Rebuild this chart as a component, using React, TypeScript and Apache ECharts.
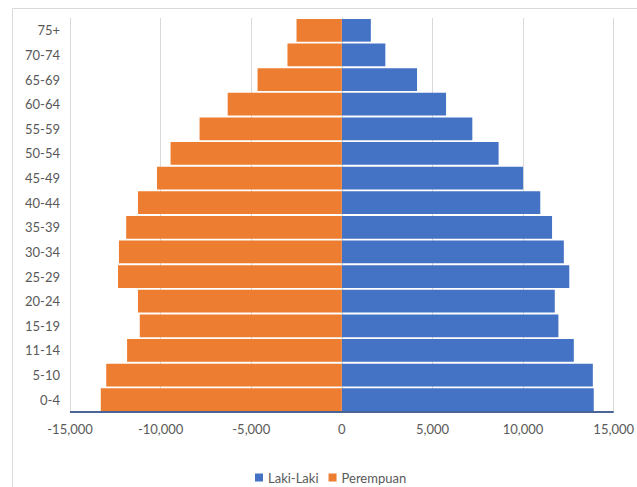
import React, { useEffect, useRef } from "react";
import * as echarts from "echarts";

const categories = ["0-4", "5-10", "11-14", "15-19", "20-24", "25-29", "30-34", "35-39", "40-44", "45-49", "50-54", "55-59", "60-64", "65-69", "70-74", "75+"];
const lakiLaki = [13900, 13850, 12800, 11950, 11750, 12550, 12250, 11600, 10950, 10000, 8650, 7200, 5750, 4150, 2400, 1600];
const perempuan = [-13300, -13000, -11850, -11150, -11250, -12350, -12300, -11900, -11250, -10200, -9450, -7850, -6300, -4650, -3000, -2500];
const xTicks = { min: -15000, max: 15000, interval: 5000 };

export default function App() {
  const ref = useRef<HTMLDivElement>(null);
  useEffect(() => {
    if (!ref.current) return;
    const chart = echarts.init(ref.current, null, { renderer: "svg" });
    const font = "Lato, 'Open Sans', sans-serif";
    chart.setOption({
      animation: false,
      backgroundColor: "#ffffff",
      graphic: [
        {
          type: "rect",
          shape: { x: 12.5, y: 8.5, width: 700, height: 600 },
          style: { fill: "none", stroke: "#d9d9d9", lineWidth: 1 },
          silent: true,
        },
      ],
      legend: {
        data: ["Laki-Laki", "Perempuan"],
        left: 250,
        top: 466,
        icon: "rect",
        itemWidth: 8,
        itemHeight: 8,
        itemGap: 10,
        textStyle: { color: "#595959", fontSize: 13, fontFamily: font },
      },
      grid: { left: 70, right: 22, top: 18, bottom: 75 },
      xAxis: {
        type: "value",
        min: xTicks.min,
        max: xTicks.max,
        interval: xTicks.interval,
        axisLine: { show: false },
        axisTick: { show: false },
        splitLine: { show: true, lineStyle: { color: "#d9d9d9", width: 1 } },
        axisLabel: {
          color: "#595959",
          fontSize: 13,
          fontFamily: font,
          margin: 10,
          formatter: (v: number) => v.toLocaleString("en-US"),
        },
      },
      yAxis: {
        type: "category",
        data: categories,
        axisLine: { show: true, lineStyle: { color: "#d9d9d9", width: 1 } },
        axisTick: { show: false },
        axisLabel: { color: "#595959", fontSize: 13, fontFamily: font, margin: 10 },
      },
      series: [
        {
          name: "Laki-Laki",
          type: "bar",
          stack: "total",
          data: lakiLaki,
          barCategoryGap: "8%",
          itemStyle: { color: "#4472c4" },
        },
        {
          name: "Perempuan",
          type: "bar",
          stack: "total",
          data: perempuan,
          barCategoryGap: "8%",
          itemStyle: { color: "#ed7d31" },
        },
        {
          name: "axisBase",
          type: "line",
          data: [],
          markLine: {
            silent: true,
            symbol: "none",
            label: { show: false },
            lineStyle: { color: "#4a6595", width: 2, type: "solid" },
            data: [[{ coord: [xTicks.min, "0-4"], y: 412 }, { coord: [xTicks.max, "0-4"], y: 412 }]],
          },
        },
      ],
    });
    return () => chart.dispose();
  }, []);
  return <div ref={ref} style={{ position: "fixed", left: 0, top: 0, width: 637, height: 487 }} />;
}
